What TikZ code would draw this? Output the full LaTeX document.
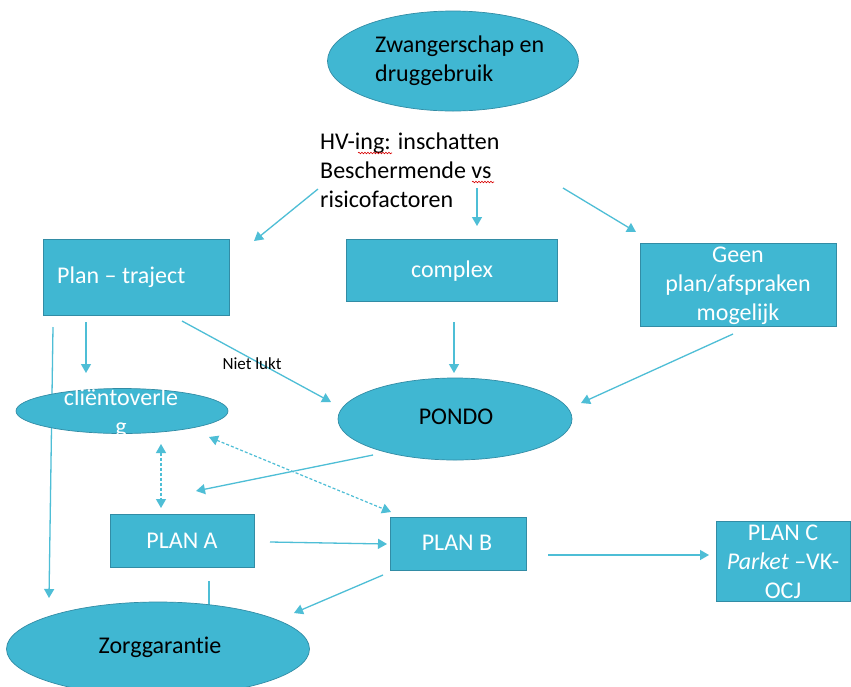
\documentclass[tikz,border=0pt]{standalone}
\usepackage{fontspec}
\setmainfont{Carlito}[Ligatures={NoCommon}]
\usetikzlibrary{arrows.meta,shapes.geometric,decorations.pathmorphing}
\definecolor{fillc}{RGB}{64,183,210}
\definecolor{edgec}{RGB}{50,140,165}
\definecolor{linec}{RGB}{78,190,214}
\begin{document}
\begin{tikzpicture}[x=1pt,y=-1pt,
  conn/.style={draw=linec,line width=1.3pt,-{Triangle[length=9pt,width=10pt]}},
  dconn/.style={draw=linec,line width=1.2pt,dash pattern=on 3pt off 2pt,{Triangle[length=9pt,width=10pt]}-{Triangle[length=9pt,width=10pt]}},
  plainline/.style={draw=linec,line width=1.3pt},
  oval/.style={ellipse,draw=edgec,line width=0.7pt,fill=fillc,inner sep=0pt},
  boxx/.style={rectangle,draw=edgec,line width=0.8pt,fill=fillc,inner sep=0pt},
  wtxt/.style={text=white,font=\fontsize{24}{29}\selectfont,inner sep=0pt},
  btxt/.style={text=black,font=\fontsize{24}{29}\selectfont,inner sep=0pt},
  spell/.style={draw=red!85!black,line width=0.6pt,decorate,decoration={snake,amplitude=0.8pt,segment length=3pt}}
]
\useasboundingbox (0,0) rectangle (851,686);
\clip (0,0) rectangle (851,686);
\fill[white] (0,0) rectangle (851,686);

% connector end points
\coordinate (a1s) at (318,189); \coordinate (a1e) at (254,241);
\coordinate (a2s) at (477,188); \coordinate (a2e) at (477,226);
\coordinate (a3s) at (563,188); \coordinate (a3e) at (636,232);
\coordinate (a4s) at (86,322);  \coordinate (a4e) at (86,373);
\coordinate (a5s) at (53,327);  \coordinate (a5e) at (49,598);
\coordinate (a6s) at (182,321); \coordinate (a6e) at (331,402);
\coordinate (a7s) at (454,322); \coordinate (a7e) at (454,373);
\coordinate (a8s) at (733,334); \coordinate (a8e) at (581,403);
\coordinate (a9s) at (373,455); \coordinate (a9e) at (196,491);
\coordinate (d1s) at (161,444); \coordinate (d1e) at (161,508);
\coordinate (d2s) at (209,437); \coordinate (d2e) at (391,512);
\coordinate (a10s) at (270,542); \coordinate (a10e) at (387,544);
\coordinate (a11s) at (383,575); \coordinate (a11e) at (294,613);
\coordinate (l1s) at (209,581); \coordinate (l1e) at (209,610);
\coordinate (a12s) at (548,555); \coordinate (a12e) at (709,555);

% connectors (behind shapes)
\draw[conn] (a1s) -- (a1e);
\draw[conn] (a2s) -- (a2e);
\draw[conn] (a3s) -- (a3e);
\draw[conn] (a4s) -- (a4e);
\draw[conn] (a5s) -- (a5e);
\draw[conn] (a6s) -- (a6e);
\draw[conn] (a7s) -- (a7e);
\draw[conn] (a8s) -- (a8e);
\draw[conn] (a9s) -- (a9e);
\draw[dconn] (d1s) -- (d1e);
\draw[dconn] (d2s) -- (d2e);
\draw[conn] (a10s) -- (a10e);
\draw[conn] (a11s) -- (a11e);
\draw[plainline] (l1s) -- (l1e);
\draw[conn] (a12s) -- (a12e);

% shapes
\node[oval,minimum width=251pt,minimum height=100pt] (zw) at (453,61) {};
\node[boxx,minimum width=186pt,minimum height=76pt] (pt) at (136,277) {};
\node[boxx,minimum width=211pt,minimum height=62pt] (cx) at (451.5,270) {};
\node[boxx,minimum width=196pt,minimum height=83pt] (gp) at (738,284.5) {};
\node[oval,minimum width=212pt,minimum height=45pt] (co) at (122,411) {};
\node[oval,minimum width=234pt,minimum height=82pt] (po) at (455,419) {};
\node[boxx,minimum width=144pt,minimum height=53pt] (pa) at (182,540.5) {};
\node[boxx,minimum width=136pt,minimum height=53pt] (pb) at (458,543.5) {};
\node[boxx,minimum width=134pt,minimum height=80pt] (pc) at (783,561) {};
\node[oval,minimum width=303pt,minimum height=94pt] (zg) at (158,649) {};

% texts
\node[btxt,anchor=west,align=left] (tzw) at (375,61) {Zwangerschap en\\druggebruik};
\node[btxt,anchor=west,align=left] (thv) at (320,170) {HV-ing: inschatten\\Beschermende vs\\risicofactoren};
\draw[spell] (358,153) -- (392,153);
\draw[spell] (472,182) -- (494,182);
\node[wtxt,anchor=west] (tpt) at (57,277) {Plan – traject};
\node[wtxt] (tcx) at (452,271) {complex};
\node[wtxt,align=center] (tgp) at (738,286) {Geen\\plan/afspraken\\mogelijk};
\node[wtxt,align=center] (tco) at (121,414) {cliëntoverle\\g};
\node[btxt] (tpo) at (456,417) {PONDO};
\node[btxt,font=\fontsize{17}{20}\selectfont] (tnl) at (252,364) {Niet lukt};
\node[wtxt] (tpa) at (182,541) {PLAN A};
\node[wtxt] (tpb) at (457,543) {PLAN B};
\node[wtxt,align=center] (tpc) at (783,562) {PLAN C\\\textit{Parket} –VK-\\OCJ};
\node[btxt] (tzg) at (160,647) {Zorggarantie};
\end{tikzpicture}
\end{document}
